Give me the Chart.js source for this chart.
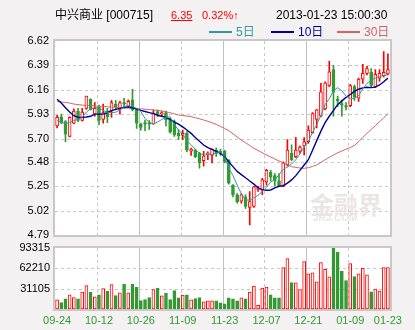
<!DOCTYPE html>
<html>
<head>
<meta charset="utf-8">
<script src="https://cdn.jsdelivr.net/npm/chart.js@4.4.0/dist/chart.umd.min.js"></script>
<style>
    body { margin: 0; width: 415px; height: 330px; overflow: hidden; position: relative;
           background: #f3f1f1; font-family: "Liberation Sans", "Noto Sans CJK SC", sans-serif; }
    canvas { position: absolute; left: 0; }
    #kline { top: 0; }
    #vol { top: 236px; }
    .t { position: absolute; white-space: nowrap; font-size: 12px; line-height: 14px; }
    .ln { position: absolute; height: 2px; width: 23px; top: 31px; }
    .wm { position: absolute; white-space: nowrap; font-weight: bold; color: #ebe5e5; }
</style>
</head>
<body>
<canvas id="kline" width="415" height="250"></canvas>
<canvas id="vol" width="415" height="94"></canvas>

<div class="t" style="left:55px;top:8px;color:#000;">中兴商业 [000715]</div>
<div class="t" style="left:171px;top:8px;color:#ff0000;font-size:11px;text-decoration:underline;">6.35</div>
<div class="t" style="left:202px;top:8px;color:#ff0000;font-size:11px;">0.32%↑</div>
<div class="t" style="left:276px;top:8px;color:#000;">2013-01-23 15:00:30</div>

<div class="ln" style="left:209px;background:#339999;"></div>
<div class="t" style="left:236px;top:25px;color:#339999;">5日</div>
<div class="ln" style="left:271px;background:#000099;"></div>
<div class="t" style="left:298px;top:25px;color:#000099;">10日</div>
<div class="ln" style="left:337px;background:#cc6666;"></div>
<div class="t" style="left:364px;top:25px;color:#cc6666;">30日</div>

<div class="wm" style="left:310px;top:186px;font-size:24px;">金融界</div>
<div class="wm" style="left:313px;top:212px;font-size:10px;font-style:italic;">JRJ.COM</div>

<script>
// daily bars, 09-24 .. 01-23
const open = [5.82, 5.905, 5.86, 5.72, 5.845, 5.96, 5.87, 5.985, 6.07, 5.93,
    6.0, 5.88, 5.96, 5.96, 6.025, 5.975, 6.04, 6.0, 6.065, 5.97,
    5.835, 5.85, 5.85, 5.835, 5.955, 5.935, 5.945, 5.88, 5.86, 5.75,
    5.73, 5.75, 5.58, 5.59, 5.56, 5.49, 5.55, 5.54, 5.59, 5.58,
    5.58, 5.50, 5.26, 5.17, 5.11, 5.15, 5.05, 5.06, 5.22, 5.215,
    5.29, 5.38, 5.35, 5.30, 5.25, 5.45, 5.56, 5.53, 5.58, 5.63,
    5.67, 5.755, 5.88, 5.91, 5.98, 6.20, 6.35, 6.07, 6.03, 6.01,
    6.01, 6.19, 6.08, 6.26, 6.315, 6.325, 6.19, 6.27, 6.29, 6.31];
const high = [5.92, 5.93, 5.87, 5.905, 5.98, 5.985, 5.985, 6.10, 6.075, 6.04,
    6.015, 6.025, 5.985, 6.06, 6.06, 6.05, 6.08, 6.065, 6.165, 5.985,
    5.845, 5.875, 5.87, 5.97, 5.97, 5.955, 5.96, 5.89, 5.875, 5.785,
    5.78, 5.765, 5.61, 5.60, 5.57, 5.58, 5.575, 5.60, 5.61, 5.60,
    5.59, 5.50, 5.265, 5.18, 5.18, 5.17, 5.20, 5.25, 5.25, 5.325,
    5.41, 5.40, 5.37, 5.37, 5.48, 5.69, 5.64, 5.71, 5.63, 5.71,
    5.82, 5.945, 5.975, 6.22, 6.235, 6.43, 6.39, 6.10, 6.06, 6.04,
    6.21, 6.205, 6.27, 6.40, 6.38, 6.36, 6.35, 6.35, 6.52, 6.50];
const low = [5.80, 5.84, 5.67, 5.715, 5.84, 5.86, 5.865, 5.975, 5.97, 5.91,
    5.83, 5.845, 5.85, 5.90, 5.97, 5.93, 5.985, 5.995, 5.96, 5.795,
    5.78, 5.775, 5.785, 5.835, 5.905, 5.91, 5.82, 5.75, 5.72, 5.69,
    5.69, 5.575, 5.54, 5.52, 5.42, 5.44, 5.50, 5.47, 5.53, 5.54,
    5.47, 5.27, 5.15, 5.09, 5.09, 5.04, 4.885, 5.05, 5.20, 5.17,
    5.26, 5.30, 5.25, 5.245, 5.245, 5.44, 5.49, 5.52, 5.56, 5.545,
    5.655, 5.75, 5.80, 5.905, 5.97, 6.19, 5.91, 6.0, 5.91, 5.97,
    6.0, 6.06, 6.05, 6.22, 6.30, 6.19, 6.18, 6.24, 6.28, 6.30];
const close = [5.90, 5.85, 5.74, 5.90, 5.96, 5.87, 5.95, 6.10, 5.97, 5.985,
    5.87, 5.945, 5.905, 6.04, 6.0, 6.04, 6.025, 6.05, 5.97, 5.845,
    5.805, 5.835, 5.835, 5.94, 5.93, 5.945, 5.875, 5.76, 5.735, 5.725,
    5.75, 5.59, 5.60, 5.53, 5.47, 5.535, 5.56, 5.60, 5.56, 5.565,
    5.48, 5.28, 5.17, 5.105, 5.17, 5.06, 5.105, 5.245, 5.23, 5.31,
    5.40, 5.335, 5.30, 5.25, 5.47, 5.59, 5.50, 5.59, 5.62, 5.67,
    5.78, 5.935, 5.97, 6.14, 6.225, 6.33, 6.14, 6.055, 6.015, 5.995,
    6.20, 6.095, 6.26, 6.315, 6.36, 6.20, 6.305, 6.315, 6.325, 6.35];
const volume = [14000, 9850, 15550, 21770, 17600, 15550, 25900, 35770, 25400, 18660,
    21770, 31100, 26950, 37300, 20700, 24880, 37840, 24880, 37840, 33180,
    12960, 14500, 17600, 29550, 31600, 20200, 23850, 14500, 28000, 17100,
    21250, 21770, 14000, 16070, 17600, 10900, 12440, 12440, 12440, 9330,
    7780, 17100, 15550, 12440, 17100, 15550, 25900, 35250, 5700, 32140,
    33700, 21770, 17100, 17100, 63250, 77240, 40430, 39900, 29550, 72580,
    53900, 55470, 41470, 71020, 60650, 49250, 93300, 87090, 57540, 43550,
    69470, 49770, 53900, 62200, 52360, 26440, 30590, 27480, 63250, 63250];

// moving averages
const ma5 = [5.87, 5.85, 5.843, 5.85, 5.87, 5.88, 5.90, 5.95, 5.98, 5.99,
    5.99, 5.965, 5.945, 5.945, 5.948, 5.97, 6.0, 6.01, 6.0, 5.985,
    5.955, 5.89, 5.85, 5.84, 5.855, 5.88, 5.90, 5.905, 5.83, 5.78,
    5.74, 5.68, 5.64, 5.60, 5.56, 5.545, 5.545, 5.552, 5.562, 5.575,
    5.53, 5.42, 5.35, 5.26, 5.18, 5.12, 5.12, 5.14, 5.165, 5.20,
    5.24, 5.29, 5.31, 5.36, 5.41, 5.43, 5.46, 5.50, 5.555, 5.62,
    5.67, 5.76, 5.83, 5.92, 6.02, 6.075, 6.15, 6.18, 6.15, 6.10,
    6.075, 6.08, 6.105, 6.17, 6.22, 6.25, 6.27, 6.285, 6.295, 6.30];
const ma10 = [6.07, 6.035, 5.99, 5.95, 5.915, 5.90, 5.90, 5.903, 5.91, 5.93,
    5.93, 5.93, 5.945, 5.963, 5.975, 5.985, 5.995, 6.0, 5.99, 5.978,
    5.965, 5.955, 5.945, 5.935, 5.92, 5.91, 5.90, 5.88, 5.855, 5.835,
    5.81, 5.78, 5.749, 5.71, 5.675, 5.639, 5.615, 5.598, 5.578, 5.56,
    5.53, 5.48, 5.435, 5.39, 5.36, 5.33, 5.30, 5.27, 5.235, 5.218,
    5.212, 5.215, 5.235, 5.25, 5.255, 5.28, 5.31, 5.35, 5.40, 5.45,
    5.50, 5.59, 5.68, 5.77, 5.85, 5.91, 5.965, 6.02, 6.055, 6.088,
    6.115, 6.145, 6.165, 6.178, 6.183, 6.18, 6.185, 6.205, 6.235, 6.27];
const ma30 = [6.05, 6.045, 6.04, 6.035, 6.025, 6.02, 6.015, 6.012, 6.01, 6.008,
    6.005, 6.002, 6.0, 5.997, 5.994, 5.99, 5.988, 5.986, 5.984, 5.982,
    5.98, 5.977, 5.973, 5.97, 5.965, 5.96, 5.953, 5.943, 5.933, 5.922,
    5.917, 5.912, 5.906, 5.896, 5.886, 5.875, 5.862, 5.848, 5.834, 5.815,
    5.795, 5.774, 5.745, 5.715, 5.686, 5.66, 5.634, 5.608, 5.587, 5.566,
    5.545, 5.526, 5.507, 5.488, 5.47, 5.452, 5.434, 5.428, 5.422, 5.419,
    5.425, 5.437, 5.45, 5.475, 5.50, 5.523, 5.545, 5.565, 5.582, 5.60,
    5.615, 5.635, 5.67, 5.71, 5.749, 5.785, 5.822, 5.859, 5.895, 5.934];

const priceTicks = [4.79, 5.02, 5.25, 5.48, 5.70, 5.93, 6.16, 6.39, 6.62];
const volTicks = [31105, 62210, 93315];
const tickIdx = [0, 10, 20, 30, 40, 50, 60, 70, 79];
const tickText = ['09-24', '10-12', '10-26', '11-09', '11-23', '12-07', '12-21', '01-09', '01-23'];
const gridIdx = [10, 20, 30, 40, 50, 60, 70];

const UP = '#ff0000';
const DOWN = '#339933';
const GRID = '#c8c8c8';

const days = open.map((o, i) => i);
const isUp = close.map((c, i) => c >= open[i]);

Chart.defaults.font.family = '"Liberation Sans", sans-serif';
Chart.defaults.font.size = 11;
Chart.defaults.color = '#000';

// white plot area, dashed grid, grey frame
const frameGrid = {
    id: 'frameGrid',
    beforeDatasetsDraw(chart, args, opts) {
        const { ctx, chartArea: a, scales: { x, y } } = chart;
        ctx.save();
        ctx.fillStyle = '#ffffff';
        ctx.fillRect(a.left, a.top, a.right - a.left, a.bottom - a.top);
        ctx.lineWidth = 1;
        ctx.strokeStyle = GRID;
        ctx.setLineDash([3, 3]);
        opts.hLines.forEach(v => {
            const py = Math.round(y.getPixelForValue(v)) + 0.5;
            ctx.beginPath();
            ctx.moveTo(a.left, py);
            ctx.lineTo(a.right, py);
            ctx.stroke();
        });
        gridIdx.forEach((i, k) => {
            const px = Math.round((x.getPixelForValue(i - 1) + x.getPixelForValue(i)) / 2) + 0.5;
            ctx.setLineDash(k % 2 ? [] : [3, 3]);
            ctx.strokeStyle = k % 2 ? '#c0c0c0' : GRID;
            ctx.beginPath();
            ctx.moveTo(px, a.top);
            ctx.lineTo(px, a.bottom);
            ctx.stroke();
        });
        ctx.setLineDash([]);
        ctx.lineWidth = 2;
        ctx.strokeStyle = GRID;
        ctx.strokeRect(a.left - 1, a.top - 1, a.right - a.left + 2, a.bottom - a.top + 2);
        ctx.restore();
    }
};

const maLine = (label, data, color, width) => ({
    type: 'line', label, data,
    borderColor: color, borderWidth: width,
    pointRadius: 0, tension: 0, order: 0
});

new Chart(document.getElementById('kline'), {
    type: 'bar',
    data: {
        labels: days,
        datasets: [
            maLine('5日', ma5, '#339999', 1),
            maLine('10日', ma10, '#000099', 1.4),
            maLine('30日', ma30, '#cc6666', 1),
            {
                data: open.map((o, i) => [o, close[i]]),
                backgroundColor: isUp.map(u => u ? '#ffffff' : DOWN),
                borderColor: isUp.map(u => u ? UP : DOWN),
                borderWidth: 1, borderSkipped: false,
                barThickness: 3, minBarLength: 1, grouped: false, order: 1
            },
            {
                data: low.map((l, i) => [l, high[i]]),
                backgroundColor: isUp.map(u => u ? UP : DOWN),
                barThickness: 1, grouped: false, order: 2
            }
        ]
    },
    options: {
        responsive: false,
        devicePixelRatio: 1,
        animation: false,
        layout: { padding: { left: 0, right: 25, top: 41, bottom: 15 } },
        plugins: {
            legend: { display: false },
            tooltip: { enabled: false },
            frameGrid: { hLines: priceTicks.slice(1, -1) }
        },
        scales: {
            x: { type: 'category', display: false, offset: true },
            y: {
                min: 4.79, max: 6.62,
                afterBuildTicks: axis => { axis.ticks = priceTicks.map(v => ({ value: v })); },
                afterFit: axis => { axis.width = 55; },
                grid: { display: false, drawTicks: false },
                border: { display: false },
                ticks: { padding: 6, callback: v => Number(v).toFixed(2) }
            }
        }
    },
    plugins: [frameGrid]
});

new Chart(document.getElementById('vol'), {
    type: 'bar',
    data: {
        labels: days,
        datasets: [{
            data: volume,
            backgroundColor: isUp.map(u => u ? '#ffffff' : DOWN),
            borderColor: isUp.map(u => u ? UP : DOWN),
            borderWidth: 1, borderSkipped: false,
            barThickness: 3
        }]
    },
    options: {
        responsive: false,
        devicePixelRatio: 1,
        animation: false,
        layout: { padding: { left: 0, right: 25, top: 12, bottom: 0 } },
        plugins: {
            legend: { display: false },
            tooltip: { enabled: false },
            frameGrid: { hLines: volTicks.slice(0, -1) }
        },
        scales: {
            x: {
                type: 'category', offset: true,
                grid: { display: false, drawTicks: false },
                border: { display: false },
                afterFit: axis => { axis.height = 21; },
                ticks: {
                    autoSkip: false, maxRotation: 0, padding: 5, color: DOWN,
                    callback: (v, i) => {
                        const k = tickIdx.indexOf(i);
                        return k >= 0 ? tickText[k] : '';
                    }
                }
            },
            y: {
                min: 0, max: 93315,
                afterBuildTicks: axis => { axis.ticks = volTicks.map(v => ({ value: v })); },
                afterFit: axis => { axis.width = 55; },
                grid: { display: false, drawTicks: false },
                border: { display: false },
                ticks: { padding: 5, callback: v => String(v) }
            }
        }
    },
    plugins: [frameGrid]
});
</script>
</body>
</html>
